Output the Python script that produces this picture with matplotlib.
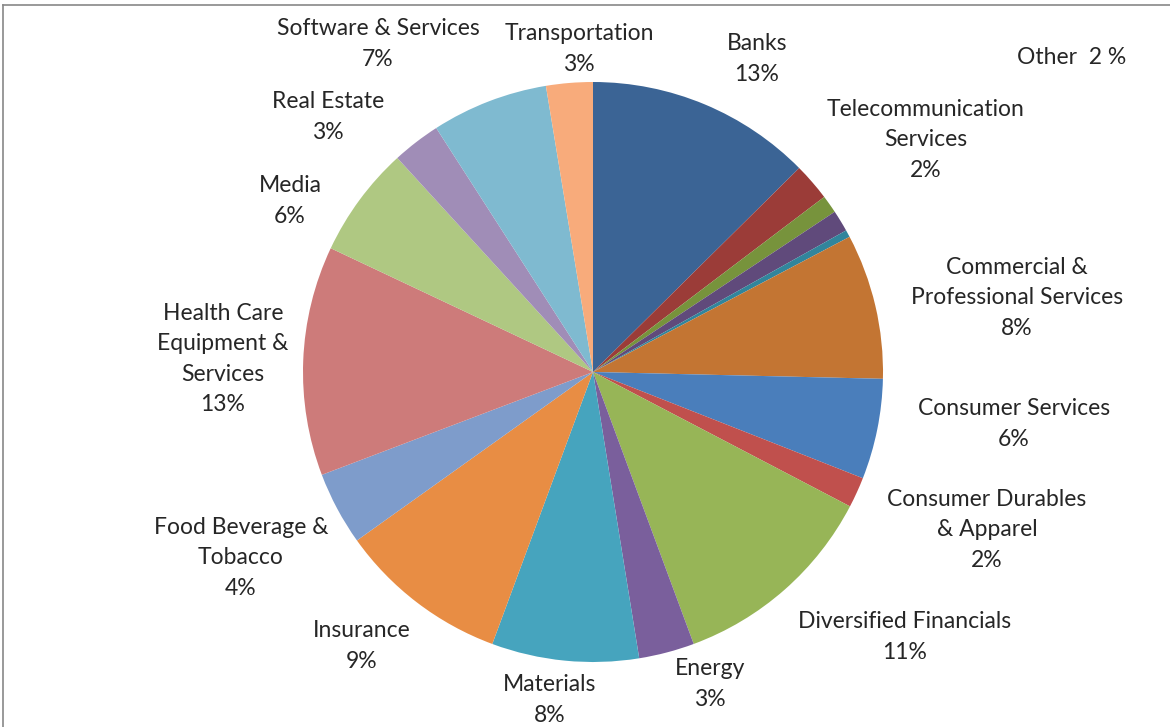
import matplotlib
matplotlib.use("Agg")
import matplotlib.pyplot as plt
from matplotlib.lines import Line2D

plt.rcParams['font.family'] = ['Lato', 'DejaVu Sans']

# sector shares (%), clockwise from 12 o'clock
sectors = ["Banks", "Telecommunication Services", "Other A", "Other B", "Other C",
           "Commercial & Professional Services", "Consumer Services",
           "Consumer Durables & Apparel", "Diversified Financials", "Energy",
           "Materials", "Insurance", "Food Beverage & Tobacco",
           "Health Care Equipment & Services", "Media", "Real Estate",
           "Software & Services", "Transportation"]
shares = [12.6, 2.1, 1.0, 1.2, 0.4, 8.1, 5.6, 1.7, 11.7, 3.1,
          8.2, 9.5, 4.1, 12.8, 6.2, 2.7, 6.5, 2.6]
colors = ["#3B6495", "#9B3C38", "#77933C", "#604A7B", "#31859C", "#C37533",
          "#4A7EBB", "#C0504D", "#97B557", "#7A5F9C", "#46A4BE", "#E88D44",
          "#7E9CCB", "#CD7B7A", "#AFC882", "#A08DB7", "#7FBAD0", "#F8AB7B"]

# label text and pixel position (x, y from top)
labels = ["Software & Services\n7%", "Transportation\n3%", "Banks\n13%",
          "Other  2 %", "Telecommunication\nServices\n2%",
          "Commercial &\nProfessional Services\n8%", "Consumer Services\n6%",
          "Consumer Durables\n& Apparel\n2%", "Diversified Financials\n11%",
          "Energy\n3%", "Materials\n8%", "Insurance\n9%",
          "Food Beverage &\nTobacco\n4%", "Health Care\nEquipment &\nServices\n13%",
          "Media\n6%", "Real Estate\n3%"]
label_pos = [(378, 44), (579, 49), (757, 59), (1072, 58), (926, 140),
             (1017, 298), (1014, 424), (987, 530), (905, 637), (710, 684),
             (550, 700), (362, 646), (241, 558), (223, 359), (290, 201),
             (328, 117)]

W, H = 1170, 727
fig = plt.figure(figsize=(W / 100, H / 100), dpi=100)
ax = fig.add_axes([0, 0, 1, 1])

ax.pie(shares, colors=colors, startangle=90, counterclock=False,
       center=(593, H - 372), radius=290, frame=True,
       wedgeprops=dict(linewidth=0))
ax.set_xlim(0, W)
ax.set_ylim(0, H)
ax.set_aspect('equal')
ax.axis('off')

for txt, (x, y) in zip(labels, label_pos):
    ax.text(x, H - y, txt, ha='center', va='center', fontsize=16.5,
            color='#262626', linespacing=1.55)

# outer frame (top and left edges visible)
fig.add_artist(Line2D([3 / W, 3 / W], [0, 1 - 5 / H], color='#888888', lw=1.2))
fig.add_artist(Line2D([3 / W, 1], [1 - 5 / H, 1 - 5 / H], color='#888888', lw=1.2))

fig.savefig("out.png", dpi=100)
